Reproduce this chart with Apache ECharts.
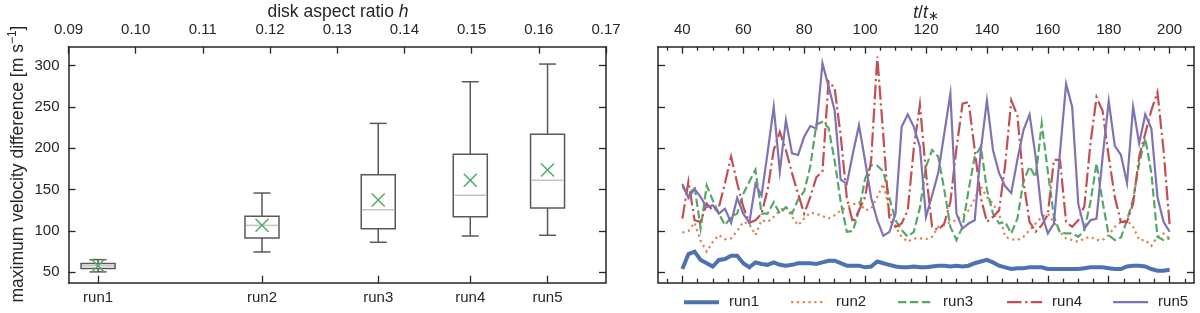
<!DOCTYPE html>
<html><head><meta charset="utf-8">
<script src="https://cdn.jsdelivr.net/npm/echarts@6/dist/echarts.min.js"></script>
<style>html,body{margin:0;padding:0;background:#fff}#c{width:1200px;height:313px}</style>
</head><body><div id="c"></div>
<script>
// ---------- left panel: box statistics ----------
const runNames = ['run1', 'run2', 'run3', 'run4', 'run5'];
const runH = [0.0944, 0.1188, 0.1361, 0.1498, 0.1613];
const whiskerLow = [50.5, 74.6, 86.3, 93.9, 94.8];
const q1 = [54.6, 91.5, 102.8, 117.3, 127.8];
const median = [57.8, 106.8, 125.8, 143.1, 161.3];
const q3 = [60.6, 117.7, 168.1, 192.7, 217.0];
const whiskerHigh = [65.3, 145.9, 230.2, 280.6, 302.0];
const mean = [58.0, 107.0, 137.5, 161.3, 173.7];
const hTicks = [0.09, 0.10, 0.11, 0.12, 0.13, 0.14, 0.15, 0.16, 0.17];
const yTicks = [50, 100, 150, 200, 250, 300];

// ---------- right panel: time series ----------
const tMajor = [40, 60, 80, 100, 120, 140, 160, 180, 200];
const tMinor = [35, 45, 50, 55, 65, 70, 75, 85, 90, 95, 105, 110, 115, 125, 130, 135, 145, 150, 155, 165, 170, 175, 185, 190, 195, 205];
const t = [40, 42, 44, 46, 48, 50, 52, 54, 56, 58, 60, 62, 64, 66, 68, 70, 72, 74, 76, 78,
  80, 82, 84, 86, 88, 90, 92, 94, 96, 98, 100, 102, 104, 106, 108, 110, 112, 114, 116, 118,
  120, 122, 124, 126, 128, 130, 132, 134, 136, 138, 140, 142, 144, 146, 148, 150, 152, 154, 156, 158,
  160, 162, 164, 166, 168, 170, 172, 174, 176, 178, 180, 182, 184, 186, 188, 190, 192, 194, 196, 198, 200];
const run1 = [54, 72, 75, 65, 61, 57, 65, 66, 70, 70, 61, 56, 62, 60, 59, 62, 59, 58, 59, 61,
  61, 61, 60, 62, 64, 64, 61, 58, 58, 58, 56, 57, 63, 61, 59, 57, 56, 56, 57, 56,
  56, 57, 58, 58, 57, 58, 57, 58, 61, 63, 65, 62, 58, 56, 54, 55, 55, 56, 56, 56,
  54, 54, 54, 54, 54, 54, 55, 56, 56, 56, 55, 54, 54, 57, 58, 58, 57, 54, 52, 52, 53];
const run2 = [98, 100, 110, 88, 75, 87, 95, 90, 91, 100, 111, 108, 95, 113, 111, 117, 125, 129, 117, 107,
  115, 122, 121, 118, 115, 119, 125, 129, 132, 135, 125, 127, 141, 157, 125, 105, 93, 87, 91, 91,
  90, 93, 105, 107, 111, 113, 119, 125, 139, 154, 141, 133, 121, 93, 90, 89, 93, 101, 109, 117,
  121, 111, 99, 91, 89, 87, 91, 93, 89, 89, 95, 105, 111, 113, 105, 89, 89, 82, 93, 97, 91];
const run3 = [154, 142, 154, 103, 155, 137, 121, 107, 117, 121, 145, 160, 174, 121, 121, 135, 121, 129, 121, 138,
  148, 178, 229, 232, 225, 185, 135, 99, 100, 125, 163, 180, 179, 172, 140, 113, 101, 93, 99, 128,
  178, 198, 190, 150, 105, 89, 105, 150, 190, 202, 150, 121, 109, 111, 97, 115, 160, 178, 165, 230,
  172, 117, 98, 97, 97, 93, 101, 135, 182, 135, 95, 89, 92, 113, 138, 182, 212, 170, 93, 89, 91];
const run4 = [115, 160, 113, 111, 133, 125, 129, 158, 190, 158, 129, 110, 113, 121, 150, 198, 220, 198, 170, 145,
  121, 141, 165, 172, 281, 273, 215, 140, 110, 125, 141, 186, 311, 215, 113, 105, 109, 125, 200, 253,
  170, 105, 101, 109, 135, 200, 254, 256, 198, 140, 111, 117, 125, 180, 258, 240, 160, 111, 99, 107,
  120, 186, 186, 111, 105, 113, 130, 206, 262, 245, 190, 141, 111, 111, 133, 190, 218, 246, 268, 198, 107];
const run5 = [157, 140, 151, 141, 129, 131, 121, 127, 110, 140, 121, 110, 157, 143, 195, 250, 172, 234, 194, 192,
  214, 227, 224, 303, 275, 246, 162, 157, 194, 228, 185, 140, 113, 94, 99, 121, 226, 241, 226, 202,
  117, 143, 170, 218, 266, 121, 103, 109, 113, 198, 258, 198, 170, 154, 146, 186, 222, 241, 190, 121,
  97, 109, 195, 278, 250, 133, 103, 113, 115, 190, 257, 203, 192, 158, 250, 206, 241, 224, 141, 111, 99];

const colors = ['#4c72b0', '#dd8452', '#55a868', '#c44e52', '#8172b3'];
const INK = '#262626';
const FONT = 'Liberation Sans, Arial, sans-serif';
const runs = [run1, run2, run3, run4, run5];
const lineTypes = ['solid', [2.2, 3.6], [8.3, 3.6], [14.4, 3.6, 2.2, 3.6], 'solid'];
const lineWidths = [4, 2.2, 2.2, 2.2, 2.2];
const legendLeft = [682, 790, 897, 1006, 1112];

const chart = echarts.init(document.getElementById('c'), null, {renderer: 'canvas'});

const frameLine = {show: true, lineStyle: {color: INK, width: 1.5}};
const tickStyle = {color: INK, width: 1.3};
const labelStyle = {color: INK, fontSize: 15, fontFamily: FONT};

function yAxisDef(grid, pos, showLabel) {
  return {
    type: 'value', gridIndex: grid, position: pos, min: 37.4, max: 323,
    splitLine: {show: false}, axisLine: frameLine,
    axisTick: {show: true, inside: true, length: 7, customValues: yTicks, lineStyle: tickStyle},
    axisLabel: {show: showLabel, customValues: yTicks, margin: 9, ...labelStyle}
  };
}

const option = {
  animation: false,
  backgroundColor: '#fff',
  grid: [
    {left: 68.5, top: 46.7, width: 537.5, height: 236, outerBoundsMode: 'none', containLabel: false},
    {left: 658, top: 46.7, width: 536, height: 236, outerBoundsMode: 'none', containLabel: false}
  ],
  xAxis: [
    { // 0: left top h axis
      type: 'value', gridIndex: 0, position: 'top', min: 0.09, max: 0.17,
      splitLine: {show: false}, axisLine: frameLine,
      axisTick: {show: true, inside: true, length: 7, customValues: hTicks, lineStyle: tickStyle},
      axisLabel: {customValues: hTicks, margin: 9, formatter: v => v.toFixed(2), ...labelStyle}
    },
    { // 1: left bottom run labels
      type: 'value', gridIndex: 0, position: 'bottom', min: 0.09, max: 0.17,
      splitLine: {show: false}, axisLine: frameLine,
      axisTick: {show: true, inside: true, length: 7, customValues: runH, lineStyle: tickStyle},
      axisLabel: {customValues: runH, margin: 8, ...labelStyle,
        formatter: v => {
          let best = 0;
          runH.forEach((h, i) => { if (Math.abs(h - v) < Math.abs(runH[best] - v)) best = i; });
          return runNames[best];
        }}
    },
    { // 2: right top major
      type: 'value', gridIndex: 1, position: 'top', min: 32, max: 208,
      splitLine: {show: false}, axisLine: frameLine,
      axisTick: {show: true, inside: true, length: 7, customValues: tMajor, lineStyle: tickStyle},
      axisLabel: {customValues: tMajor, margin: 9, ...labelStyle}
    },
    { // 3: right top minor
      type: 'value', gridIndex: 1, position: 'top', min: 32, max: 208,
      splitLine: {show: false}, axisLine: {show: false},
      axisTick: {show: true, inside: true, length: 4, customValues: tMinor, lineStyle: tickStyle},
      axisLabel: {show: false}
    },
    { // 4: right bottom major
      type: 'value', gridIndex: 1, position: 'bottom', min: 32, max: 208,
      splitLine: {show: false}, axisLine: frameLine,
      axisTick: {show: true, inside: true, length: 7, customValues: tMajor, lineStyle: tickStyle},
      axisLabel: {show: false}
    },
    { // 5: right bottom minor
      type: 'value', gridIndex: 1, position: 'bottom', min: 32, max: 208,
      splitLine: {show: false}, axisLine: {show: false},
      axisTick: {show: true, inside: true, length: 4, customValues: tMinor, lineStyle: tickStyle},
      axisLabel: {show: false}
    }
  ],
  yAxis: [
    yAxisDef(0, 'left', true),
    yAxisDef(0, 'right', false),
    yAxisDef(1, 'left', false),
    yAxisDef(1, 'right', false)
  ],
  legend: runNames.map((n, i) => ({
    data: [n], left: legendLeft[i], top: 294.7, padding: 0,
    itemWidth: 35, itemHeight: 14,
    itemStyle: {opacity: 0},
    lineStyle: {width: lineWidths[i], color: colors[i], type: lineTypes[i], cap: 'butt'},
    textStyle: {color: INK, fontSize: 15, fontFamily: FONT, padding: [0, 0, 0, 5]}
  })),
  graphic: [
    {type: 'text', x: 338, y: 12, style: {
      text: 'disk aspect ratio {i|h}', fill: INK, fontSize: 17.5, fontFamily: FONT,
      align: 'center', verticalAlign: 'middle',
      rich: {i: {fontStyle: 'italic', fontSize: 17.5, fontFamily: FONT, fill: INK}}
    }},
    {type: 'text', x: 926, y: 13, style: {
      text: '{i|t}{n|/}{i|t}{s|∗}', fill: INK, fontSize: 17.5, fontFamily: FONT,
      align: 'center', verticalAlign: 'middle',
      rich: {
        i: {fontStyle: 'italic', fontSize: 17.5, fontFamily: FONT, fill: INK, lineHeight: 20},
        n: {fontSize: 17.5, fontFamily: FONT, fill: INK, lineHeight: 20},
        s: {fontSize: 13, fontFamily: FONT, fill: INK, verticalAlign: 'bottom', lineHeight: 12}
      }
    }},
    {type: 'text', x: 18, y: 164, rotation: Math.PI / 2, style: {
      text: '{n|maximum velocity difference [m s}{s|−1}{n|]}', fill: INK, fontFamily: FONT,
      align: 'center', verticalAlign: 'middle',
      rich: {
        n: {fontSize: 17.5, fontFamily: FONT, fill: INK, lineHeight: 22},
        s: {fontSize: 12, fontFamily: FONT, fill: INK, verticalAlign: 'top', lineHeight: 12}
      }
    }}
  ],
  series: [
    {
      type: 'custom', name: 'box', xAxisIndex: 1, yAxisIndex: 0,
      data: runH.map((h, i) => [h, whiskerLow[i], q1[i], median[i], q3[i], whiskerHigh[i]]),
      encode: {x: 0, y: [1, 2, 3, 4, 5]},
      renderItem: function (params, api) {
        const x = api.value(0);
        const lo = api.coord([x, api.value(1)]);
        const b1 = api.coord([x, api.value(2)]);
        const md = api.coord([x, api.value(3)]);
        const b3 = api.coord([x, api.value(4)]);
        const hi = api.coord([x, api.value(5)]);
        const cx = lo[0], bw = 34, cw = 17;
        const st = {stroke: '#595959', lineWidth: 1.5, fill: null};
        return {type: 'group', children: [
          {type: 'line', shape: {x1: cx, y1: hi[1], x2: cx, y2: b3[1]}, style: st},
          {type: 'line', shape: {x1: cx, y1: b1[1], x2: cx, y2: lo[1]}, style: st},
          {type: 'line', shape: {x1: cx - cw / 2, y1: hi[1], x2: cx + cw / 2, y2: hi[1]}, style: st},
          {type: 'line', shape: {x1: cx - cw / 2, y1: lo[1], x2: cx + cw / 2, y2: lo[1]}, style: st},
          {type: 'rect', shape: {x: cx - bw / 2, y: b3[1], width: bw, height: b1[1] - b3[1]},
            style: {stroke: '#595959', lineWidth: 1.5, fill: 'rgba(255,255,255,0)'}},
          {type: 'line', shape: {x1: cx - bw / 2 + 1, y1: md[1], x2: cx + bw / 2 - 1, y2: md[1]},
            style: {stroke: '#c4c4c4', lineWidth: 1.5}}
        ]};
      }
    },
    {
      type: 'custom', name: 'mean', xAxisIndex: 1, yAxisIndex: 0,
      data: runH.map((h, i) => [h, mean[i]]),
      encode: {x: 0, y: 1},
      renderItem: function (params, api) {
        const p = api.coord([api.value(0), api.value(1)]);
        const r = 6.5;
        const st = {stroke: colors[2], lineWidth: 1.5};
        return {type: 'group', children: [
          {type: 'line', shape: {x1: p[0] - r, y1: p[1] - r, x2: p[0] + r, y2: p[1] + r}, style: st},
          {type: 'line', shape: {x1: p[0] - r, y1: p[1] + r, x2: p[0] + r, y2: p[1] - r}, style: st}
        ]};
      }
    }
  ].concat(runs.map((arr, k) => ({
    type: 'line', name: runNames[k], xAxisIndex: 2, yAxisIndex: 2,
    data: t.map((x, i) => [x, arr[i]]),
    symbol: 'none', showSymbol: false,
    itemStyle: {color: colors[k]},
    lineStyle: {color: colors[k], width: lineWidths[k], type: lineTypes[k], cap: 'butt', join: 'miter'}
  })))
};
chart.setOption(option);
</script>
</body></html>
